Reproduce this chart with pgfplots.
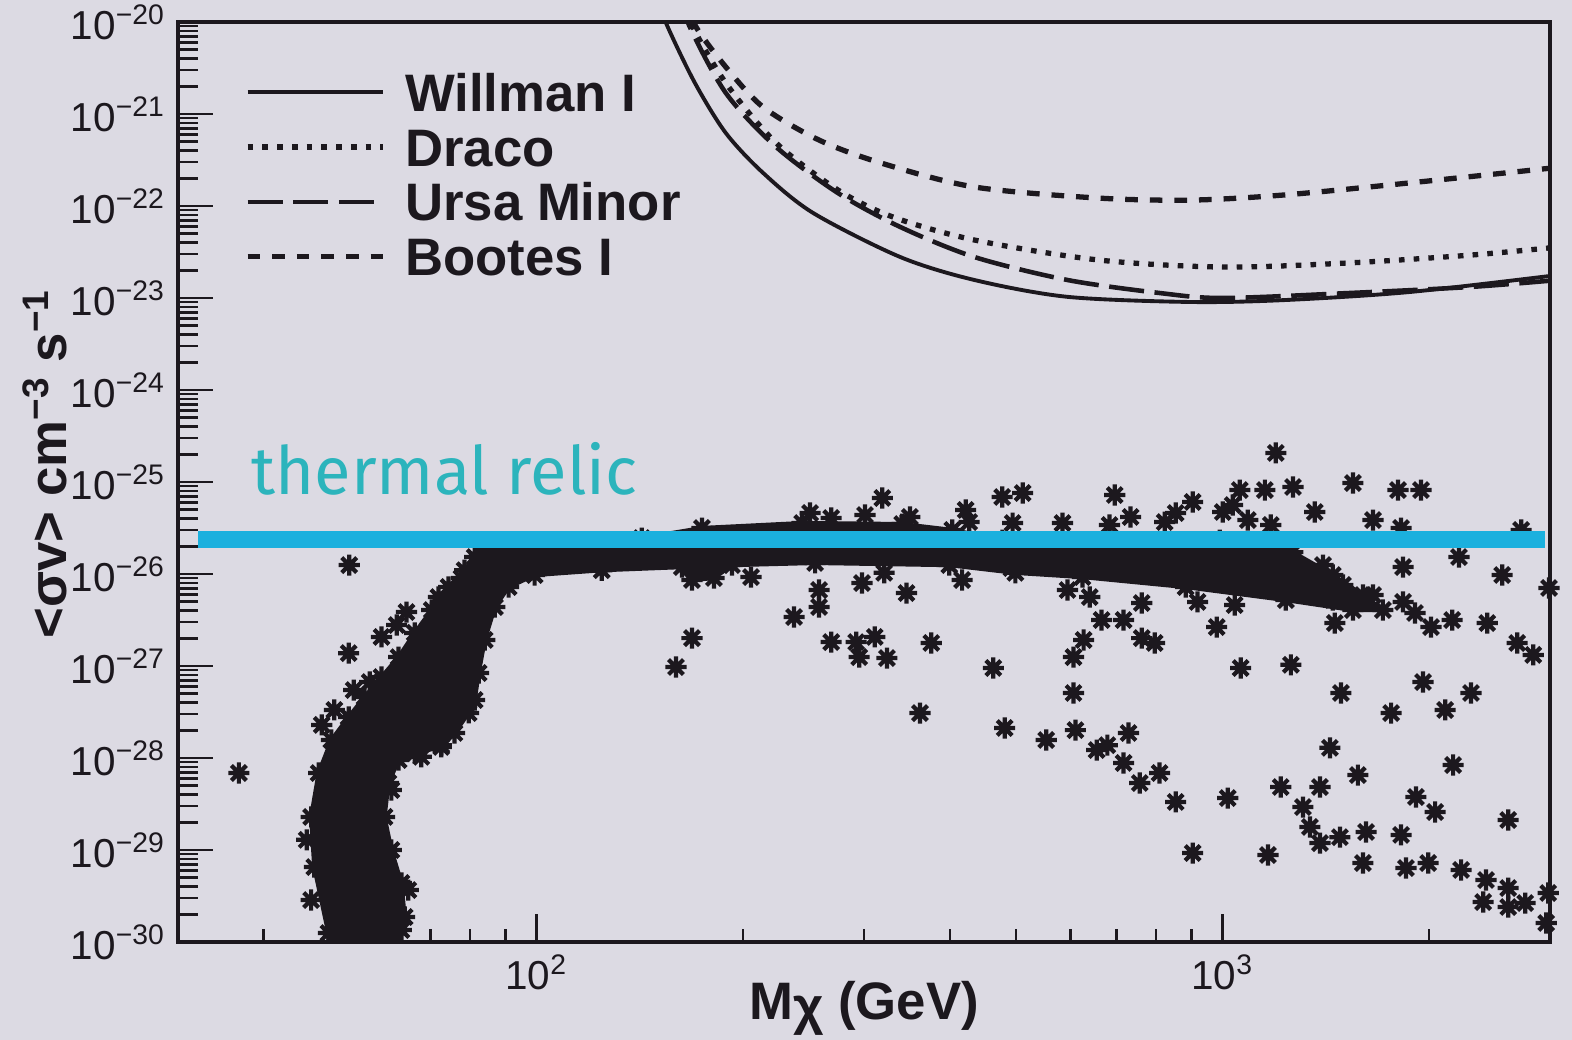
\documentclass[border=0pt]{standalone}
\usepackage{fontspec}
\setmainfont{Liberation Sans}
\newfontfamily\relicfont{Fira Sans}
\usepackage{pgfplots}
\pgfplotsset{compat=1.18}

\definecolor{bg}{RGB}{220,218,227}
\definecolor{relic}{RGB}{27,176,222}
\definecolor{relictext}{RGB}{44,180,188}
\definecolor{ink}{RGB}{28,24,30}

\newcommand{\dec}[1]{10\textsuperscript{#1}}

% eight-armed star for the model points
\pgfdeclareplotmark{star8}{%
  \pgfpathmoveto{\pgfqpoint{-\pgfplotmarksize}{0pt}}%
  \pgfpathlineto{\pgfqpoint{\pgfplotmarksize}{0pt}}%
  \pgfpathmoveto{\pgfqpoint{0pt}{-\pgfplotmarksize}}%
  \pgfpathlineto{\pgfqpoint{0pt}{\pgfplotmarksize}}%
  \pgfpathmoveto{\pgfqpoint{-0.707\pgfplotmarksize}{-0.707\pgfplotmarksize}}%
  \pgfpathlineto{\pgfqpoint{0.707\pgfplotmarksize}{0.707\pgfplotmarksize}}%
  \pgfpathmoveto{\pgfqpoint{-0.707\pgfplotmarksize}{0.707\pgfplotmarksize}}%
  \pgfpathlineto{\pgfqpoint{0.707\pgfplotmarksize}{-0.707\pgfplotmarksize}}%
  \pgfusepathqstroke}

\begin{document}
\begin{tikzpicture}
\fill[bg] (-1.78,-0.98) rectangle (13.94,9.42);

% main axis: data, y ticks, legend
\begin{axis}[
  at={(0,0)}, anchor=south west,
  width=13.72cm, height=9.2cm, scale only axis,
  xmode=log, ymode=log,
  xmin=30, xmax=3000, ymin=1e-30, ymax=1e-20,
  clip mode=individual,
  axis line style={ink, line width=0.9pt},
  tick pos=left, tick align=inside,
  xtick=\empty,
  ytick={1e-30,1e-29,1e-28,1e-27,1e-26,1e-25,1e-24,1e-23,1e-22,1e-21,1e-20},
  yticklabels={\dec{−30},\dec{−29},\dec{−28},\dec{−27},\dec{−26},\dec{−25},\dec{−24},\dec{−23},\dec{−22},\dec{−21},\dec{−20}},
  minor ytick={2e-30,3e-30,4e-30,5e-30,6e-30,7e-30,8e-30,9e-30,
    2e-29,3e-29,4e-29,5e-29,6e-29,7e-29,8e-29,9e-29,
    2e-28,3e-28,4e-28,5e-28,6e-28,7e-28,8e-28,9e-28,
    2e-27,3e-27,4e-27,5e-27,6e-27,7e-27,8e-27,9e-27,
    2e-26,3e-26,4e-26,5e-26,6e-26,7e-26,8e-26,9e-26,
    2e-25,3e-25,4e-25,5e-25,6e-25,7e-25,8e-25,9e-25,
    2e-24,3e-24,4e-24,5e-24,6e-24,7e-24,8e-24,9e-24,
    2e-23,3e-23,4e-23,5e-23,6e-23,7e-23,8e-23,9e-23,
    2e-22,3e-22,4e-22,5e-22,6e-22,7e-22,8e-22,9e-22,
    2e-21,3e-21,4e-21,5e-21,6e-21,7e-21,8e-21,9e-21},
  major tick length=0.35cm, minor tick length=0.2cm,
  every tick/.style={ink, line width=0.7pt},
  tick label style={font=\fontsize{11.5}{13}\selectfont, text=ink},
  ylabel={<σv> cm\textsuperscript{−3} s\textsuperscript{−1}},
  every axis y label/.style={at={(axis description cs:-0.097,0.52)}, rotate=90, anchor=center,
    font=\fontsize{15}{18}\selectfont\bfseries, text=ink},
  legend cell align=left,
  legend image code/.code={\draw[#1] (0cm,0cm) -- (1.35cm,0cm);},
  legend style={at={(axis description cs:0.0488,0.9446)}, anchor=north west,
    draw=none, fill=none, inner sep=0pt, outer sep=0pt,
    row sep=4.7pt, column sep=0.2cm,
    font=\fontsize{15}{18}\selectfont\bfseries, text=ink,
    nodes={inner sep=0pt, text height=10.9pt, text depth=0pt}},
]

% exclusion limits from the four dwarf galaxies
\addplot[ink, line width=1.1pt, smooth] coordinates {
  (149.6,1.95e-20) (154.8,9.28e-21) (170.1,2.17e-21) (188.7,6.21e-22) (213.8,2.29e-22)
  (252.9,8.40e-23) (338.8,2.79e-23) (434.5,1.57e-23) (593.8,1.03e-23) (901,9.05e-24)
  (1231,9.5e-24) (1868,1.16e-23) (3083,1.78e-23)};
\addlegendentry{Willman I}

\addplot[ink, line width=1.5pt, dash pattern=on 1.6pt off 2.6pt, smooth] coordinates {
  (164.4,1.95e-20) (168.4,9.28e-21) (188.7,2.17e-21) (223.4,4.84e-22) (275.0,1.49e-22)
  (330.9,7.58e-23) (434.5,4.27e-23) (659,2.59e-23) (1000,2.17e-23) (1517,2.40e-23)
  (2301,2.93e-23) (3083,3.58e-23)};
\addlegendentry{Draco}

\addplot[ink, line width=1.3pt, dash pattern=on 10pt off 3pt, smooth] coordinates {
  (162.8,1.95e-20) (166.7,9.28e-21) (188.7,1.69e-21) (223.4,4.38e-22) (275.0,1.38e-22)
  (338.8,5.92e-23) (434.5,2.79e-23) (593.8,1.57e-23) (812,1.13e-23) (1000,1.0e-23)
  (1517,1.13e-23) (2301,1.32e-23) (3083,1.57e-23)};
\addlegendentry{Ursa Minor}

\addplot[ink, line width=1.5pt, dash pattern=on 3.6pt off 3.4pt, smooth] coordinates {
  (166.1,1.95e-20) (170.1,9.28e-21) (188.7,3.24e-21) (213.8,1.19e-21) (258.0,5.21e-22)
  (317.8,2.93e-22) (434.5,1.61e-22) (659,1.22e-22) (901,1.16e-22) (1231,1.32e-22)
  (1868,1.78e-22) (3020,2.59e-22)};
\addlegendentry{Bootes I}

% dense region of model points
\addplot[fill=ink, draw=ink, line width=1.2pt, mark=star8, mark size=3pt,
  mark options={line width=1.2pt}, forget plot] coordinates {
  (49.7,9.0e-31) (49.7,1.25e-30) (47.4,6.53e-30) (46.9,2.29e-29) (48.1,6.87e-29)
  (50.2,1.57e-28) (53.2,2.79e-28) (56.1,4.60e-28) (59.4,7.59e-28) (62.9,1.25e-27)
  (66.4,2.29e-27) (70.3,4.06e-27) (74.4,7.22e-27) (78.5,1.10e-26) (81.2,1.53e-26)
  (84.5,1.82e-26) (108.8,1.92e-26) (124.4,2.07e-26) (142.3,2.46e-26) (174.1,3.16e-26)
  (243.7,3.58e-26) (341.1,3.49e-26) (403.5,3.01e-26) (477.3,2.34e-26) (668.0,2.07e-26)
  (990,2.34e-26) (1211,2.07e-26) (1265,1.73e-26) (1447,9.75e-27) (1601,5.91e-27)
  (1712,4.06e-27) (1548,4.06e-27) (1236,5.21e-27) (883,7.22e-27) (624.5,9.27e-27)
  (498.6,1.03e-26) (399.5,1.25e-26) (254.6,1.32e-26) (192.6,1.25e-26) (181.3,9.05e-27)
  (168.4,8.61e-27) (162.8,1.19e-26) (124.4,1.10e-26) (99.3,9.75e-27) (91.0,7.22e-27)
  (86.9,4.38e-27) (84.0,1.92e-27) (82.3,8.40e-28) (81.2,4.27e-28) (79.6,3.09e-28)
  (75.9,1.87e-28) (72.6,1.32e-28) (66.4,1.13e-28) (62.9,9.51e-29) (60.8,5.35e-29)
  (60.0,2.29e-29) (61.4,1.0e-29) (63.5,4.38e-30) (64.2,1.87e-30) (62.9,9.0e-31)} -- cycle;

% scattered model points
\addplot[only marks, mark=star8, mark size=3pt, ink,
  mark options={line width=1.2pt}, forget plot] coordinates {
  (36.8,6.87e-29) (53.3,1.25e-26) (53.2,1.38e-27) (50.7,3.33e-28) (57.1,6.70e-28)
  (59.4,2.07e-27) (64.6,3.86e-27) (71.9,5.62e-27) (77.7,9.05e-27) (67.9,1.03e-28)
  (65.0,3.67e-30) (72.6,1.38e-28) (48.6,2.29e-28) (54.1,5.48e-28) (62.5,2.79e-27)
  (61.4,4.49e-29) (46.9,2.86e-30) (63.5,1.35e-30) (46.2,1.29e-29)
  (250.3,4.60e-26) (268.7,4.06e-26) (301,4.38e-26) (319,6.70e-26) (350,4.17e-26)
  (422,4.97e-26) (427,3.67e-26) (477,6.87e-26) (511,7.59e-26) (494,3.58e-26)
  (584,3.58e-26) (696,7.22e-26) (734,4.17e-26) (684,3.41e-26) (854,4.60e-26)
  (904,6.07e-26) (823,3.67e-26) (1059,8.18e-26) (1152,8.18e-26) (1266,8.83e-26)
  (1195,2.07e-25) (1548,9.75e-26) (1801,8.18e-26) (1946,8.18e-26) (1362,4.72e-26)
  (1656,3.86e-26) (1820,3.16e-26) (1000,4.72e-26) (1088,3.86e-26) (1175,3.41e-26)
  (1034,5.62e-26) (2723,3.01e-26)
  (168.4,2.01e-27) (159.6,9.75e-28) (205.3,9.27e-27) (237.2,3.41e-27) (258,6.70e-27)
  (258,4.38e-27) (268.7,1.82e-27) (292.2,1.82e-27) (295.2,1.25e-27) (324,1.22e-27)
  (298,7.98e-27) (321,1.03e-26) (346,6.21e-27) (311,2.07e-27) (376,1.78e-27)
  (417,8.61e-27) (492,1.16e-26) (463,9.51e-28) (362,3.08e-28) (481,2.12e-28)
  (553,1.57e-28) (606,1.25e-27) (606,5.09e-28) (610,2.01e-28) (655,1.22e-28)
  (679,1.38e-28) (729,1.87e-28) (717,8.83e-29) (757,5.35e-29) (809,6.87e-29)
  (854,3.33e-29) (1017,3.67e-29) (904,9.27e-30) (1164,8.83e-30) (1215,4.84e-29)
  (1386,4.84e-29) (1309,2.93e-29) (1340,1.78e-29) (1386,1.19e-29) (1482,1.38e-29)
  (1618,1.57e-29) (1601,7.22e-30) (1820,1.46e-29) (1913,3.77e-29) (2040,2.59e-29)
  (2607,2.12e-29) (1850,6.37e-30) (1993,7.22e-30) (2226,6.07e-30) (2420,4.72e-30)
  (2397,2.72e-30) (2607,3.86e-30) (2760,2.65e-30) (2607,2.40e-30) (2982,3.41e-30)
  (2962,1.61e-30) (1062,9.51e-28) (1257,1.03e-27) (1487,5.09e-28) (1760,3.08e-28)
  (1959,6.70e-28) (2110,3.33e-28) (2301,5.09e-28) (2836,1.32e-27) (1433,1.29e-28)
  (1574,6.53e-29) (2167,8.39e-29) (2687,1.78e-27) (2210,1.53e-26) (2555,9.75e-27)
  (2990,7.05e-27) (1832,1.19e-26) (1832,4.97e-27) (1907,3.77e-27) (2160,3.16e-27)
  (2430,2.93e-27) (2012,2.65e-27) (1457,2.93e-27) (980,2.65e-27) (1041,4.60e-27)
  (919,4.97e-27) (762,4.84e-27) (762,2.01e-27) (796,1.78e-27) (717,3.16e-27)
  (666,3.16e-27) (627,1.92e-27) (640,5.62e-27) (594,6.70e-27)
  (1266,1.42e-26) (1309,9.75e-27) (1400,1.25e-26) (1497,7.59e-27) (1353,6.70e-27)
  (1548,5.21e-27) (1656,5.91e-27) (1447,5.21e-27) (1266,8.61e-27) (1125,1.42e-26)};

% thermal relic cross section
\addplot[relic, line width=4.8pt, forget plot] coordinates {(32.1,2.35e-26) (2951,2.35e-26)};
\node[anchor=base west, text=relictext, font=\relicfont\fontsize{19}{22}\selectfont]
  at (axis description cs:0.0445,0.4859) {thermal relic};
\end{axis}

% x ticks and x label
\begin{axis}[
  at={(0,0)}, anchor=south west,
  width=13.72cm, height=9.2cm, scale only axis,
  xmode=log, ymode=log,
  xmin=30, xmax=3000, ymin=1e-30, ymax=1e-20,
  axis line style={draw=none},
  tick pos=left, tick align=inside,
  ytick=\empty,
  xtick={100,1000}, xticklabels={\dec{2},\dec{3}},
  minor xtick={40,50,60,70,80,90,200,300,400,500,600,700,800,900,2000,3000},
  major tick length=0.28cm, minor tick length=0.13cm,
  every tick/.style={ink, line width=0.7pt},
  tick label style={font=\fontsize{11.5}{13}\selectfont, text=ink},
  xlabel={M\raisebox{-0.2ex}{χ} (GeV)},
  every axis x label/.style={at={(axis description cs:0.5,-0.084)}, anchor=base,
    font=\fontsize{15}{18}\selectfont\bfseries, text=ink},
]
\end{axis}

\pgfresetboundingbox
\path (-1.78,-0.98) rectangle (13.94,9.42);
\end{tikzpicture}
\end{document}
